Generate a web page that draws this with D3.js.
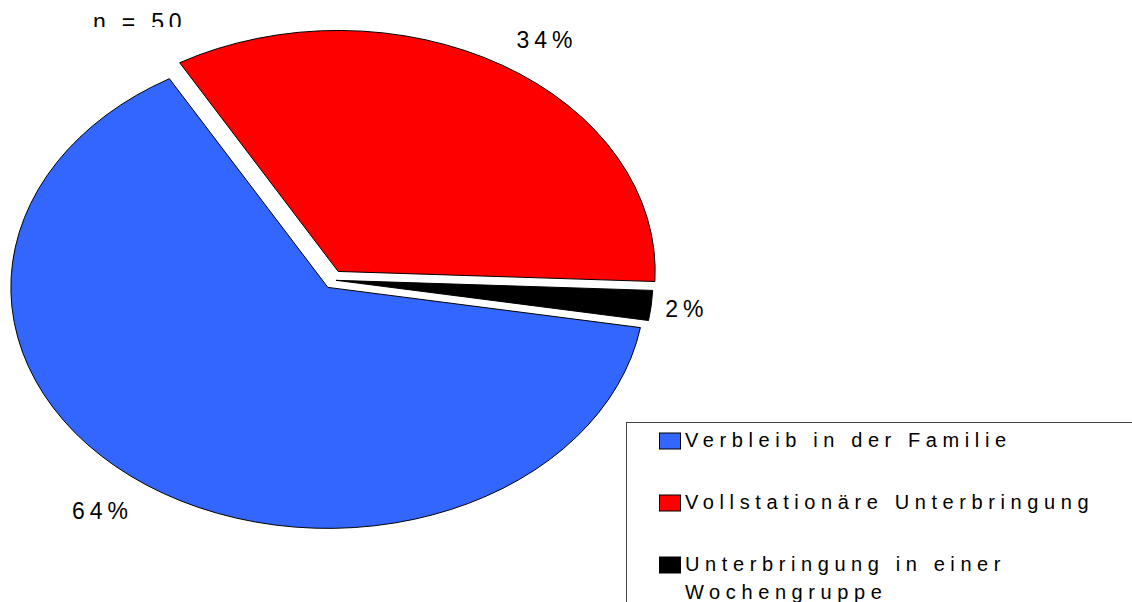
<!DOCTYPE html>
<html>
<head>
<meta charset="utf-8">
<script src="https://cdn.jsdelivr.net/npm/d3@7"></script>
<style>
  body { margin: 0; background: #fff; }
  text { font-family: "Liberation Sans", Arial, sans-serif; fill: #000; }
</style>
</head>
<body>
<div id="chart"></div>
<script>
// data
var categories    = ["Verbleib in der Familie", "Vollstationäre Unterbringung", "Unterbringung in einer Wochengruppe"];
var shares        = [64, 34, 2];
var percentLabels = ["64%", "34%", "2%"];
var legendLines   = [["Verbleib in der Familie"], ["Vollstationäre Unterbringung"], ["Unterbringung in einer", "Wochengruppe"]];
var sampleNote    = "n = 50";
var colors        = ["#3366ff", "#ff0000", "#000000"];

var width = 1132, height = 602;

// ellipse geometry (flattened pie)
var cx = 333, cy = 280,
    rx = 317, ry = 241,
    explode = [9, 10, 3],   // pull-out of each slice in px
    gapX = 14, gapY = 22;   // label distance from the rim

var svg = d3.select("#chart").append("svg")
    .attr("width", width)
    .attr("height", height);

// start so that the red slice begins at 330deg (clockwise from 12 o'clock)
var start = (330 - 360 * (shares[0] / 100)) * Math.PI / 180;
var pie = d3.pie().sort(null).value(function (d) { return d; })
    .startAngle(start).endAngle(start + 2 * Math.PI);
var arcs = pie(shares);

var arc = d3.arc().innerRadius(0).outerRadius(100);

function sliceCenter(d, i) {
  var mid = (d.startAngle + d.endAngle) / 2;
  return [cx + explode[i] * Math.sin(mid), cy - explode[i] * Math.cos(mid)];
}

// slices
svg.append("g").selectAll("path")
  .data(arcs)
  .enter()
  .append("path")
  .attr("transform", function (d, i) {
    var c = sliceCenter(d, i);
    return "translate(" + c[0] + "," + c[1] + ") scale(" + (rx / 100) + "," + (ry / 100) + ")";
  })
  .attr("d", arc)
  .attr("fill", function (d, i) { return colors[i]; })
  .attr("stroke", "#000")
  .attr("stroke-width", 1)
  .attr("vector-effect", "non-scaling-stroke");

// percentage labels, placed just outside the rim
svg.append("g").selectAll("text")
  .data(arcs)
  .enter()
  .append("text")
  .attr("font-size", 23)
  .attr("letter-spacing", 5)
  .text(function (d, i) { return percentLabels[i]; })
  .each(function (d, i) {
    var c = sliceCenter(d, i);
    var mid = (d.startAngle + d.endAngle) / 2;
    var s = Math.sin(mid), co = Math.cos(mid);
    var h = 17;
    var ex = c[0] + rx * s, ey = c[1] - ry * co;   // point on the rim
    var midY = ey - co * (h / 2 + gapY);
    d3.select(this)
      .attr("text-anchor", s >= 0 ? "start" : "end")
      .attr("x", ex + (s >= 0 ? gapX : -gapX))
      .attr("y", midY + h / 2);
  });

// sample size note, clipped at the top like the source
svg.append("clipPath").attr("id", "noteClip")
  .append("rect").attr("x", 0).attr("y", 0).attr("width", 300).attr("height", 27);

svg.append("text")
  .attr("clip-path", "url(#noteClip)")
  .attr("x", 93)
  .attr("y", 30)
  .attr("font-size", 23)
  .attr("letter-spacing", 4.8)
  .text(sampleNote);

// legend
var legend = svg.append("g").attr("transform", "translate(626.5,422.5)");

legend.append("rect")
  .attr("width", 600)
  .attr("height", 300)
  .attr("fill", "#fff")
  .attr("stroke", "#444")
  .attr("stroke-width", 1);

var items = legend.selectAll("g.item")
  .data(categories)
  .enter()
  .append("g")
  .attr("class", "item")
  .attr("transform", function (d, i) { return "translate(0," + (i * 62) + ")"; });

items.append("rect")
  .attr("x", 33)
  .attr("y", 10.5)
  .attr("width", 21)
  .attr("height", 16)
  .attr("fill", function (d, i) { return colors[i]; })
  .attr("stroke", "#000")
  .attr("stroke-width", 1);

items.each(function (d, i) {
  var g = d3.select(this);
  legendLines[i].forEach(function (line, j) {
    g.append("text")
      .attr("x", 58.5)
      .attr("y", 24.5 + j * 28)
      .attr("font-size", 20)
      .attr("letter-spacing", 5.6)
      .text(line);
  });
});
</script>
</body>
</html>
